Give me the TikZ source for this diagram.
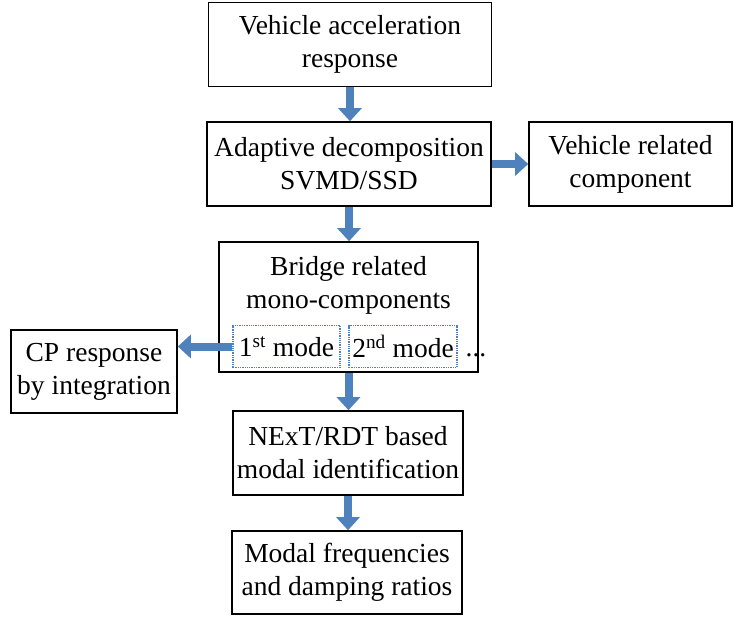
\documentclass[tikz,border=0pt]{standalone}
\usepackage{fontspec}
\setmainfont{Liberation Serif}
\usepackage{tikz}
\usetikzlibrary{positioning}
\usetikzlibrary{calc}
\usetikzlibrary{arrows.meta}

\definecolor{flowblue}{RGB}{79,129,189}

\begin{document}
\begin{tikzpicture}[x=1pt,y=-1pt,
  box/.style={draw,line width=1.6pt,align=center,inner sep=0pt,font=\fontsize{27.5}{33}\selectfont},
  modebox/.style={draw=flowblue,densely dotted,line width=1.3pt,inner sep=0pt,font=\fontsize{27.5}{33}\selectfont},
  flow/.style={draw=flowblue,line width=8pt,-{Triangle[width=23pt,length=13pt]}}]
\useasboundingbox (0,0) rectangle (736,618);
\node[box,minimum width=283pt,minimum height=84pt](accel) at (350,44.5){Vehicle acceleration\\response};
\node[box,minimum width=284pt,minimum height=84pt](decomp) at (349,164){Adaptive decomposition\\SVMD/SSD};
\node[box,minimum width=203pt,minimum height=84pt](vehcomp) at (630.5,164){Vehicle related\\component};
\node[box,minimum width=259pt,minimum height=130pt](bridge) at (348.5,307){};
\node[align=center,font=\fontsize{27.5}{33}\selectfont](bridgetxt) at (348.5,285){Bridge related\\mono-components};
\node[modebox,minimum width=107pt,minimum height=42pt](modeA) at (286.5,346.5){1\textsuperscript{st} mode};
\node[modebox,minimum width=108pt,minimum height=42pt](modeB) at (403,346.5){2\textsuperscript{nd} mode};
\node[font=\fontsize{27.5}{33}\selectfont,anchor=base,inner sep=0pt](dots) at (476,356){...};
\node[box,minimum width=166pt,minimum height=83pt](cp) at (94,371.5){CP response\\by integration};
\node[box,minimum width=230pt,minimum height=84pt](next) at (348,453){NExT/RDT based\\modal identification};
\node[box,minimum width=230pt,minimum height=83pt](modal) at (347,572.5){Modal frequencies\\and damping ratios};

\path
(accel.south) edge[flow] (accel.south |- decomp.north)
(decomp.east) edge[flow] (decomp.east -| vehcomp.west)
(decomp.south) edge[flow] (decomp.south |- bridge.north)
(modeA.west) edge[flow] (modeA.west -| cp.east)
(bridge.south) edge[flow] (bridge.south |- next.north)
(next.south) edge[flow] (next.south |- modal.north);
\end{tikzpicture}
\end{document}
